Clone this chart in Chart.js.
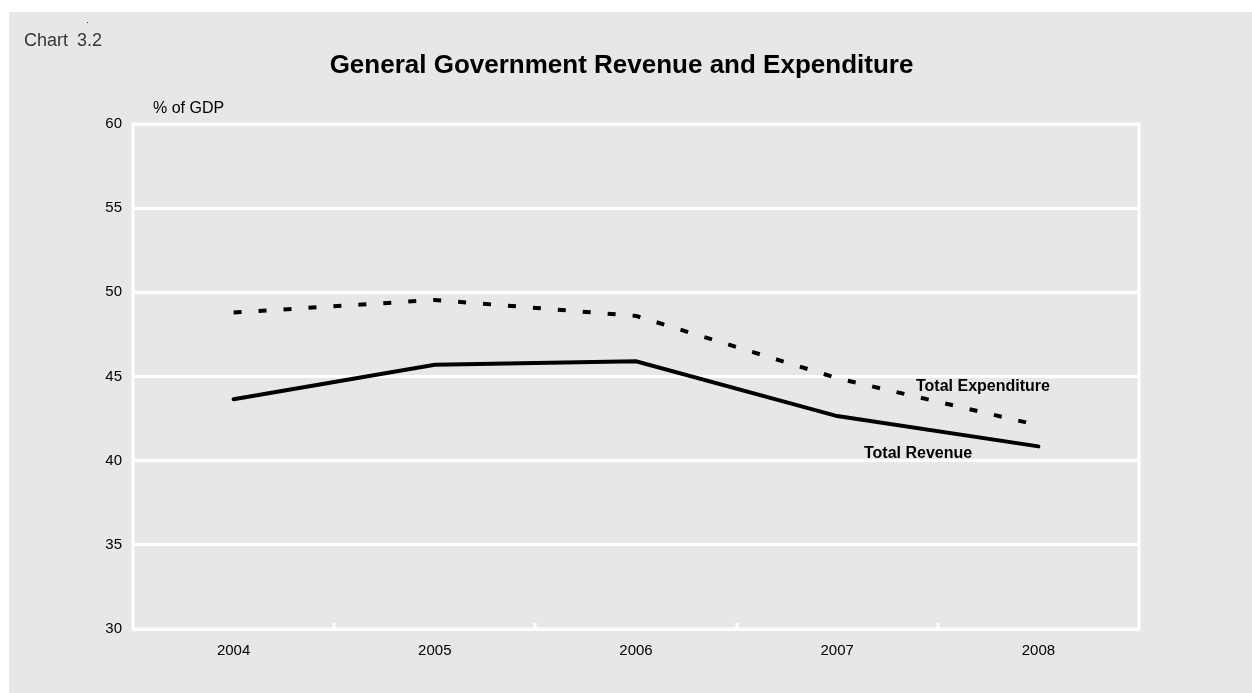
<!DOCTYPE html>
<html>
<head>
<meta charset="utf-8">
<script src="https://cdn.jsdelivr.net/npm/chart.js@4.4.1/dist/chart.umd.min.js"></script>
<style>
  html, body { margin: 0; padding: 0; background: #ffffff; }
  #wrap { width: 1252px; height: 693px; position: relative; }
</style>
</head>
<body>
<div id="wrap"><canvas id="c" width="1252" height="693"></canvas></div>
<script>
// Years on the horizontal axis
const years = ['2004', '2005', '2006', '2007', '2008'];
// General government totals, % of GDP
const totalExpenditure = [48.8, 49.55, 48.6, 44.9, 42.1];
const totalRevenue = [43.65, 45.7, 45.9, 42.65, 40.85];
// Vertical axis range
const yTicks = [30, 35, 40, 45, 50, 55, 60];

const FONT = '"Liberation Sans", Arial, sans-serif';
const PANEL = '#e6e7e9';

// Panel background, frame, inner category ticks and the free text
const decor = {
  id: 'decor',
  beforeDraw(chart) {
    const ctx = chart.ctx;
    ctx.save();
    ctx.fillStyle = '#ffffff';
    ctx.fillRect(0, 0, chart.width, chart.height);
    ctx.fillStyle = PANEL;
    ctx.fillRect(9, 12, chart.width - 9, chart.height - 12);
    ctx.restore();
  },
  afterDatasetsDraw(chart) {
    const { ctx, chartArea: a, scales } = chart;
    const x = scales.x;
    ctx.save();
    // frame around the plot
    ctx.strokeStyle = '#ffffff';
    ctx.lineWidth = 3;
    ctx.strokeRect(a.left, a.top, a.right - a.left, a.bottom - a.top);
    // short ticks between categories, pointing into the plot
    for (let i = 0; i < years.length - 1; i++) {
      const px = Math.round((x.getPixelForValue(i) + x.getPixelForValue(i + 1)) / 2);
      ctx.beginPath();
      ctx.moveTo(px, a.bottom);
      ctx.lineTo(px, a.bottom - 6);
      ctx.stroke();
    }
    // series labels
    ctx.fillStyle = '#000000';
    ctx.font = 'bold 16px ' + FONT;
    ctx.textBaseline = 'alphabetic';
    ctx.textAlign = 'left';
    ctx.fillText('Total Expenditure', 916, 391);
    ctx.fillText('Total Revenue', 864, 458);
    ctx.restore();
  },
  afterDraw(chart) {
    const ctx = chart.ctx;
    ctx.save();
    ctx.textBaseline = 'alphabetic';
    ctx.textAlign = 'left';
    ctx.fillStyle = '#363636';
    ctx.font = '18px ' + FONT;
    ctx.fillText('Chart', 24, 46);
    ctx.fillText('3.2', 77, 46);
    ctx.fillRect(87, 22, 1, 1);
    ctx.fillStyle = '#000000';
    ctx.font = '16px ' + FONT;
    ctx.fillText('% of GDP', 153, 113);
    ctx.font = 'bold 26px ' + FONT;
    ctx.textAlign = 'center';
    ctx.fillText('General Government Revenue and Expenditure', 621.5, 73);
    ctx.restore();
  }
};

new Chart(document.getElementById('c'), {
  type: 'line',
  data: {
    labels: years,
    datasets: [
      {
        label: 'Total Expenditure',
        data: totalExpenditure,
        borderColor: '#000000',
        borderWidth: 4,
        borderDash: [8, 17],
        borderCapStyle: 'butt',
        pointRadius: 0,
        tension: 0,
        fill: false
      },
      {
        label: 'Total Revenue',
        data: totalRevenue,
        borderColor: '#000000',
        borderWidth: 4,
        borderCapStyle: 'round',
        pointRadius: 0,
        tension: 0,
        fill: false
      }
    ]
  },
  options: {
    responsive: false,
    animation: false,
    events: [],
    layout: { padding: { left: 0, right: 113, top: 124, bottom: 24 } },
    plugins: {
      legend: { display: false },
      title: { display: false },
      tooltip: { enabled: false }
    },
    scales: {
      x: {
        type: 'category',
        offset: true,
        grid: { display: false, drawTicks: false },
        border: { display: false },
        ticks: { color: '#000000', font: { family: FONT, size: 15 }, padding: 13, maxRotation: 0 },
        afterFit(s) { s.height = 40; }
      },
      y: {
        min: yTicks[0],
        max: yTicks[yTicks.length - 1],
        afterBuildTicks(s) { s.ticks = yTicks.map(v => ({ value: v })); },
        grid: { color: '#ffffff', lineWidth: 3, drawTicks: false },
        border: { display: false },
        ticks: { color: '#000000', font: { family: FONT, size: 15 }, padding: 11 },
        afterFit(s) { s.width = 133; }
      }
    }
  },
  plugins: [decor]
});
</script>
</body>
</html>
